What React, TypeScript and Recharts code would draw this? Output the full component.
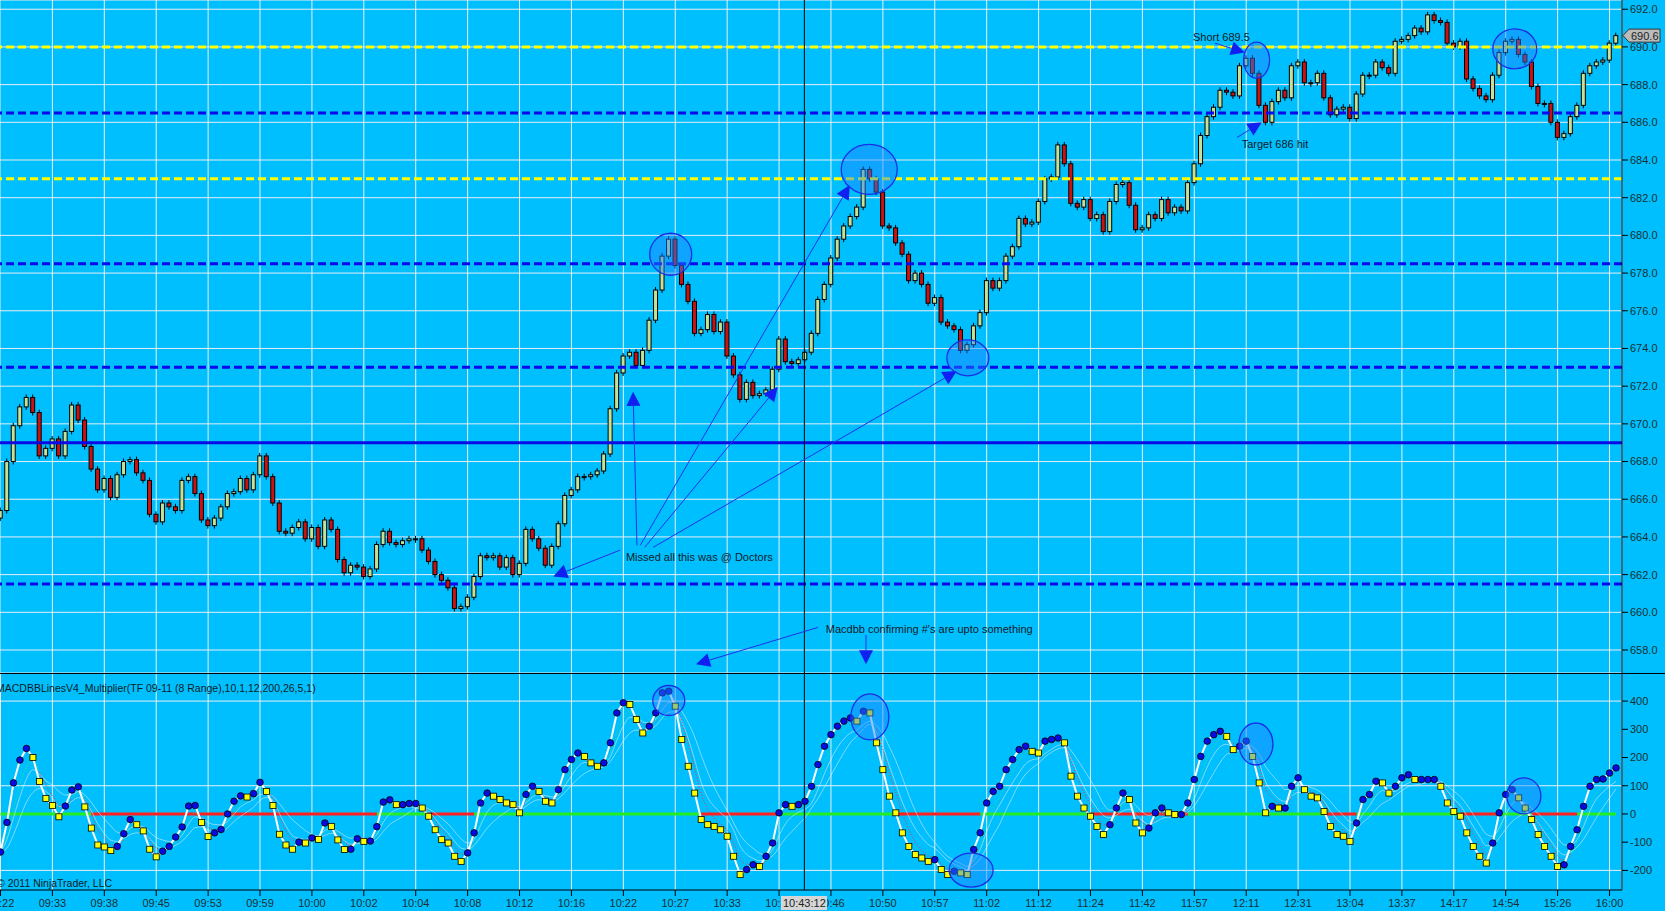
import { ComposedChart, Bar, Line, XAxis, YAxis, CartesianGrid, ReferenceLine, ReferenceDot } from 'recharts'

// TF 09-11, 8 range bars, one value every bar
const closes = [
  665.4, 668.0, 669.9, 670.9, 671.4, 670.6, 668.3, 668.7, 669.2, 668.3,
  669.6, 671.0, 670.2, 668.8, 667.6, 666.5, 667.1, 666.1, 667.3, 668.0,
  668.1, 667.4, 667.0, 665.2, 664.8, 665.8, 665.6, 665.4, 667.0, 667.2,
  666.3, 664.9, 664.6, 665.0, 665.6, 666.3, 666.4, 667.1, 666.5, 667.3,
  668.3, 667.2, 665.8, 664.3, 664.2, 664.5, 664.8, 663.9, 664.5, 663.5,
  664.9, 664.4, 662.8, 662.1, 662.5, 662.4, 661.9, 662.3, 663.6, 664.3,
  663.7, 663.6, 663.8, 663.9, 663.9, 663.3, 662.7, 662.0, 661.7, 661.3,
  660.2, 660.3, 660.8, 661.9, 663.0, 662.9, 663.0, 662.4, 662.9, 662.0,
  662.6, 664.4, 663.9, 663.4, 662.5, 663.5, 664.7, 666.2, 666.5, 667.2,
  667.2, 667.3, 667.5, 668.4, 670.8, 672.7, 673.6, 673.8, 673.1, 673.9,
  675.5, 677.1, 678.9, 679.8, 678.4, 677.4, 676.5, 674.8, 675.0, 675.8,
  674.9, 675.4, 673.6, 672.6, 671.3, 672.2, 671.5, 671.6, 671.8, 672.9,
  674.5, 673.3, 673.2, 673.4, 673.8, 674.8, 676.6, 677.4, 678.8, 679.8,
  680.5, 681.0, 681.5, 683.5, 683.0, 682.3, 680.5, 680.4, 679.6, 679.0,
  677.6, 678.0, 677.4, 676.4, 676.7, 675.4, 675.2, 675.0, 673.9, 674.2,
  675.2, 675.9, 677.6, 677.2, 677.6, 678.9, 679.4, 680.9, 680.6, 680.7,
  681.8, 683.0, 683.1, 684.8, 683.8, 681.7, 681.5, 681.9, 680.9, 681.1,
  680.2, 681.8, 682.7, 682.8, 681.6, 680.3, 680.4, 681.1, 680.9, 681.9,
  681.2, 681.5, 681.3, 682.8, 683.8, 685.3, 686.3, 686.8, 687.7, 687.6,
  687.4, 689.0, 689.4, 688.6, 686.9, 686.0, 687.1, 687.7, 687.3, 689.0,
  689.2, 688.1, 688.1, 688.6, 687.3, 686.4, 686.7, 686.8, 686.2, 687.5,
  688.5, 688.5, 689.2, 688.9, 688.6, 690.3, 690.4, 690.6, 691.0, 690.8,
  691.7, 691.4, 691.3, 690.2, 690.0, 690.3, 688.3, 687.8, 687.4, 687.2,
  688.5, 689.7, 690.3, 690.4, 689.6, 689.2, 687.9, 687.0, 687.0, 686.0,
  685.2, 685.4, 686.3, 686.9, 688.6, 689.0, 689.2, 689.3, 690.2, 690.6,
]
const firstOpen = 665.0

const macd = [
  -135, -30, 110, 191, 232, 200, 115, 55, 30, -10,
  28, 85, 96, 25, -50, -110, -117, -130, -115, -70,
  -20, -38, -60, -125, -152, -132, -115, -82, -46, 28,
  30, -30, -80, -67, -55, 0, 45, 64, 60, 72,
  112, 80, 30, -72, -110, -125, -100, -103, -85, -90,
  -32, -44, -92, -126, -125, -88, -97, -96, -45, 42,
  50, 33, 33, 37, 37, 21, -8, -56, -91, -103,
  -150, -168, -138, -67, 39, 74, 63, 51, 39, 33,
  4, 69, 98, 80, 45, 39, 86, 157, 193, 216,
  204, 181, 169, 181, 252, 358, 394, 388, 335, 287,
  311, 358, 429, 435, 382, 264, 169, 74, -20, -38,
  -44, -56, -79, -150, -215, -197, -180, -186, -150, -103,
  4, 33, 27, 33, 45, 98, 175, 240, 281, 311,
  329, 340, 329, 364, 358, 252, 157, 63, 4, -67,
  -115, -144, -156, -168, -162, -197, -215, -203, -209, -215,
  -126, -67, 39, 80, 98, 157, 193, 228, 240, 222,
  216, 258, 264, 269, 252, 134, 63, 21, -8, -44,
  -73, -38, 21, 74, 51, -32, -67, -50, 4, 21,
  4, -2, -2, 39, 122, 204, 258, 281, 293, 275,
  228, 240, 258, 204, 110, 4, 27, 21, 21, 98,
  128, 86, 63, 57, 9, -44, -73, -79, -97, -32,
  51, 69, 116, 110, 74, 98, 128, 139, 122, 122,
  122, 122, 98, 39, 9, -8, -67, -115, -150, -174,
  -103, 4, 69, 86, 57, 21, -20, -73, -115, -150,
  -186, -180, -115, -56, 27, 98, 122, 124, 145, 163,
]

// bar ranges where the zero line of the MACDBB panel is red
const redZero = [[14, 58], [66, 73], [108, 120], [138, 151], [168, 183], [204, 209], [225, 231], [236, 243]]

const timeLabels = [
  '09:22', '09:33', '09:38', '09:45', '09:53', '09:59', '10:00', '10:02', '10:04', '10:08',
  '10:12', '10:16', '10:22', '10:27', '10:33', '10:38', '10:46', '10:50', '10:57', '11:02',
  '11:12', '11:24', '11:42', '11:57', '12:11', '12:31', '13:04', '13:37', '14:17', '14:54',
  '15:26', '16:00',
]
const barsPerLabel = 8

const priceTicks = [658, 660, 662, 664, 666, 668, 670, 672, 674, 676, 678, 680, 682, 684, 686, 688, 690, 692]
const macdTicks = [-200, -100, 0, 100, 200, 300, 400]
const macdGridLevels = [400, 100, -200]

const yellowLevels = [690, 683]
const blueDashLevels = [686.5, 678.5, 673, 661.5]
const blueSolidLevels = [669]

const cursorBar = 123.9
const cursorTime = '10:43:12'

// drawn-on annotations (bar index, value)
const priceRings = [
  { i: 103.3, v: 679.0, rx: 21, ry: 21 },
  { i: 133.9, v: 683.5, rx: 28, ry: 25 },
  { i: 149.1, v: 673.5, rx: 21, ry: 18 },
  { i: 193.6, v: 689.3, rx: 13, ry: 18 },
  { i: 233.4, v: 689.9, rx: 22, ry: 20 },
]
const macdRings = [
  { i: 103.0, v: 402, rx: 16, ry: 15 },
  { i: 134.0, v: 344, rx: 19, ry: 23 },
  { i: 149.6, v: -199, rx: 22, ry: 17 },
  { i: 193.5, v: 248, rx: 17, ry: 21 },
  { i: 234.8, v: 64, rx: 17, ry: 18 },
]
const arrows = [
  { x1: 98.1, y1: 663.55, x2: 97.5, y2: 671.7 },
  { x1: 99.3, y1: 663.45, x2: 119.8, y2: 671.95 },
  { x1: 98.6, y1: 663.55, x2: 130.9, y2: 682.67 },
  { x1: 100.6, y1: 663.45, x2: 147.4, y2: 672.8 },
  { x1: 95.5, y1: 663.3, x2: 85.2, y2: 661.9 },
  { x1: 126.0, y1: 659.2, x2: 107.2, y2: 657.25 },
  { x1: 133.4, y1: 658.8, x2: 133.4, y2: 657.25 },
  { x1: 187.2, y1: 690.2, x2: 191.8, y2: 689.7 },
  { x1: 190.6, y1: 685.2, x2: 194.4, y2: 686.0 },
]
const notes = [
  { i: 96.4, v: 662.7, text: 'Missed all this was @ Doctors' },
  { i: 127.2, v: 658.9, text: "Macdbb confirming #'s are upto something" },
  { i: 183.8, v: 690.33, text: 'Short 689.5' },
  { i: 191.3, v: 684.65, text: 'Target 686 hit' },
]

const FONT = "'Liberation Sans', Arial, sans-serif"
const BG = '#00BFFF'
const GRID = '#E9EEF2'
const UP = '#C2E29A'
const DOWN = '#CC1111'
const X_DOMAIN = [-0.077, 249.923]
const PLOT_W = 1622
const xTicks = timeLabels.map((_, k) => k * barsPerLabel)

function ema(src: number[], n: number) {
  const k = 2 / (n + 1)
  const out: number[] = []
  src.forEach((v, i) => out.push(i === 0 ? v : out[i - 1] + k * (v - out[i - 1])))
  return out
}

const mid = ema(macd, 6)
const sig = ema(macd, 3)
const spread = macd.map((_, i) => {
  const w = macd.slice(Math.max(0, i - 5), i + 1)
  const m = w.reduce((a, b) => a + b, 0) / w.length
  return Math.sqrt(w.reduce((a, b) => a + (b - m) * (b - m), 0) / w.length)
})
const inRed = (i: number) => redZero.some(([a, b]) => i >= a && i <= b)
const redEdge = (i: number) => redZero.some(([a, b]) => i === a || i === b)

const rows = closes.map((c, i) => {
  const o = i === 0 ? firstOpen : closes[i - 1]
  const above = macd[i] >= sig[i]
  const prevAbove = i > 0 ? macd[i - 1] >= sig[i - 1] : above
  return {
    i,
    open: o,
    close: c,
    lo: Math.min(o, c),
    hi: Math.max(o, c),
    macd: macd[i],
    rising: i === 0 ? true : macd[i] >= macd[i - 1],
    bandUp: mid[i] + 0.3 * spread[i],
    bandDn: mid[i] - 0.3 * spread[i],
    sigGreen: above || prevAbove ? sig[i] : null,
    sigRed: !above || !prevAbove ? sig[i] : null,
    zeroRed: inRed(i) ? 0 : null,
    zeroGreen: !inRed(i) || redEdge(i) ? 0 : null,
  }
})

// x position of a bar index on the shared time axis (same linear scale as the charts)
const barX = (i: number) => ((i - X_DOMAIN[0]) / (X_DOMAIN[1] - X_DOMAIN[0])) * PLOT_W

const Candle = (props: any) => {
  const { x, y, width, height, payload } = props
  if (x == null || y == null) return null
  const cx = x + width / 2
  const h = Math.max(height, 1)
  return (
    <g>
      <line x1={cx} x2={cx} y1={y - 3} y2={y + h + 3} stroke="#000" strokeWidth={1} />
      <rect x={x} y={y} width={width} height={h} fill={payload.close >= payload.open ? UP : DOWN} stroke="#000" strokeWidth={1} />
    </g>
  )
}

const MacdDot = (props: any) => {
  const { cx, cy, payload, index } = props
  if (cx == null || cy == null) return <g key={index} />
  if (payload.rising)
    return <circle key={index} cx={cx} cy={cy} r={3.3} fill="#0A0AE6" stroke="#000" strokeWidth={0.8} />
  return <rect key={index} x={cx - 3} y={cy - 3} width={6} height={6} fill="#FFFF00" stroke="#000" strokeWidth={0.8} />
}

const Arrow = (p: any) => {
  const { x1, y1, x2, y2 } = p
  const dx = x2 - x1
  const dy = y2 - y1
  const len = Math.hypot(dx, dy) || 1
  const ux = dx / len
  const uy = dy / len
  const bx = x2 - ux * 14
  const by = y2 - uy * 14
  const pts = `${x2},${y2} ${bx - uy * 7},${by + ux * 7} ${bx + uy * 7},${by - ux * 7}`
  return (
    <g>
      <line x1={x1} y1={y1} x2={bx} y2={by} stroke="#2030F0" strokeWidth={1} />
      <polygon points={pts} fill="#1020F0" />
    </g>
  )
}

const ring = (rx: number, ry: number) => (p: any) =>
  <ellipse cx={p.cx} cy={p.cy} rx={rx} ry={ry} fill="rgba(30,130,255,0.45)" stroke="#1A2EE8" strokeWidth={1.3} />

const note = (text: string) => (p: any) =>
  <text x={p.cx} y={p.cy} fill="#102028" fontSize={11} fontFamily={FONT}>{text}</text>

const PriceTag = (props: any) => {
  const vb = props.viewBox
  if (!vb) return null
  const X = vb.x + vb.width + 1
  const Y = vb.y
  return (
    <g>
      <polygon points={`${X},${Y} ${X + 6},${Y - 6.5} ${X + 37},${Y - 6.5} ${X + 37},${Y + 6.5} ${X + 6},${Y + 6.5}`} fill="#BBBBBB" stroke="#333" strokeWidth={1} />
      <text x={X + 8} y={Y + 4} fontSize={11} fontFamily={FONT} fill="#222">{closes[closes.length - 1].toFixed(1)}</text>
    </g>
  )
}

const axisTick = { fill: '#1B3030', fontSize: 11, fontFamily: FONT }
const band = 'rgba(232,238,244,0.55)'

export default function App() {
  return (
    <div style={{ position: 'absolute', left: 0, top: 0, width: 1665, height: 911, background: BG, overflow: 'hidden', fontFamily: FONT }}>
      <div style={{ position: 'absolute', left: 0, top: 0 }}>
        <ComposedChart width={1665} height={673} data={rows} margin={{ top: 0, right: 0, bottom: 0, left: 0 }}>
          <CartesianGrid stroke={GRID} strokeWidth={1} />
          <XAxis dataKey="i" type="number" domain={X_DOMAIN} ticks={xTicks} hide allowDataOverflow />
          <YAxis
            orientation="right"
            width={43}
            domain={[656.78, 692.49]}
            ticks={priceTicks}
            interval={0}
            allowDataOverflow
            tickFormatter={(v) => Number(v).toFixed(1)}
            axisLine={{ stroke: '#000' }}
            tickLine={{ stroke: '#000' }}
            tickSize={6}
            tickMargin={2}
            tick={axisTick}
          />
          <Bar dataKey={(d: any) => [d.lo, d.hi]} barSize={4} shape={<Candle />} isAnimationActive={false} />
          {blueDashLevels.map((v) => (
            <ReferenceLine key={'b' + v} y={v} stroke="#0A0AEE" strokeWidth={3} strokeDasharray="8 4" />
          ))}
          {blueSolidLevels.map((v) => (
            <ReferenceLine key={'s' + v} y={v} stroke="#0A0AE6" strokeWidth={3} />
          ))}
          {yellowLevels.map((v) => (
            <ReferenceLine key={'y' + v} y={v} stroke="#FFFF00" strokeWidth={3} strokeDasharray="8 4" />
          ))}
          <ReferenceLine x={cursorBar} stroke="#000" strokeWidth={1} />
          <ReferenceLine y={closes[closes.length - 1]} stroke="none" label={PriceTag} />
          {priceRings.map((r, k) => (
            <ReferenceDot key={'pr' + k} x={r.i} y={r.v} r={1} shape={ring(r.rx, r.ry)} />
          ))}
          {arrows.map((a, k) => (
            <ReferenceLine key={'ar' + k} segment={[{ x: a.x1, y: a.y1 }, { x: a.x2, y: a.y2 }]} shape={Arrow} />
          ))}
          {notes.map((n, k) => (
            <ReferenceDot key={'n' + k} x={n.i} y={n.v} r={1} shape={note(n.text)} />
          ))}
        </ComposedChart>
      </div>
      <div style={{ position: 'absolute', left: 0, top: 673, width: 1665, height: 1, background: '#000' }} />
      <div style={{ position: 'absolute', left: 0, top: 674 }}>
        <ComposedChart width={1665} height={237} data={rows} margin={{ top: 0, right: 0, bottom: 0, left: 0 }}>
          <CartesianGrid horizontal={false} stroke={GRID} strokeWidth={1} />
          <XAxis
            dataKey="i"
            type="number"
            domain={X_DOMAIN}
            ticks={xTicks}
            interval={0}
            allowDataOverflow
            height={21}
            tickFormatter={(v) => timeLabels[Math.round(Number(v) / barsPerLabel)]}
            axisLine={{ stroke: '#000' }}
            tickLine={{ stroke: '#000' }}
            tickSize={6}
            tickMargin={3}
            tick={axisTick}
          />
          <YAxis
            orientation="right"
            width={43}
            domain={[-269.5, 496]}
            ticks={macdTicks}
            interval={0}
            allowDataOverflow
            axisLine={{ stroke: '#000' }}
            tickLine={{ stroke: '#000' }}
            tickSize={6}
            tickMargin={2}
            tick={axisTick}
          />
          {macdGridLevels.map((v) => (
            <ReferenceLine key={'g' + v} y={v} stroke={GRID} strokeWidth={1} />
          ))}
          <Line dataKey="zeroGreen" stroke="#22EE22" strokeWidth={3} dot={false} isAnimationActive={false} />
          <Line dataKey="zeroRed" stroke="#FF2020" strokeWidth={3} dot={false} isAnimationActive={false} />
          <Line dataKey="bandUp" stroke={band} strokeWidth={1} dot={false} isAnimationActive={false} type="monotone" />
          <Line dataKey="bandDn" stroke={band} strokeWidth={1} dot={false} isAnimationActive={false} type="monotone" />
          <Line dataKey="sigGreen" stroke="#22EE66" strokeWidth={1} strokeDasharray="1 2" dot={false} isAnimationActive={false} type="monotone" />
          <Line dataKey="sigRed" stroke="#FF3030" strokeWidth={1} strokeDasharray="1 2" dot={false} isAnimationActive={false} type="monotone" />
          <Line dataKey="macd" stroke="#FFFFFF" strokeWidth={2} dot={MacdDot} activeDot={false} isAnimationActive={false} />
          <ReferenceLine x={cursorBar} stroke="#000" strokeWidth={1} />
          {macdRings.map((r, k) => (
            <ReferenceDot key={'mr' + k} x={r.i} y={r.v} r={1} shape={ring(r.rx, r.ry)} />
          ))}
        </ComposedChart>
      </div>
      <div
        style={{
          position: 'absolute',
          left: barX(cursorBar) - 23,
          top: 896,
          width: 46,
          height: 14,
          background: '#D6D6D6',
          color: '#222',
          fontSize: 11,
          lineHeight: '14px',
          textAlign: 'center',
          whiteSpace: 'nowrap',
        }}
      >
        {cursorTime}
      </div>
      <div style={{ position: 'absolute', left: -4, top: 683, fontSize: 10.5, lineHeight: 1, color: '#0C1C22', whiteSpace: 'nowrap' }}>
        MACDBBLinesV4_Multiplier(TF 09-11 (8 Range),10,1,12,200,26,5,1)
      </div>
      <div style={{ position: 'absolute', left: -3, top: 878, fontSize: 10.5, lineHeight: 1, color: '#0C1C22', whiteSpace: 'nowrap' }}>
        © 2011 NinjaTrader, LLC
      </div>
    </div>
  )
}
